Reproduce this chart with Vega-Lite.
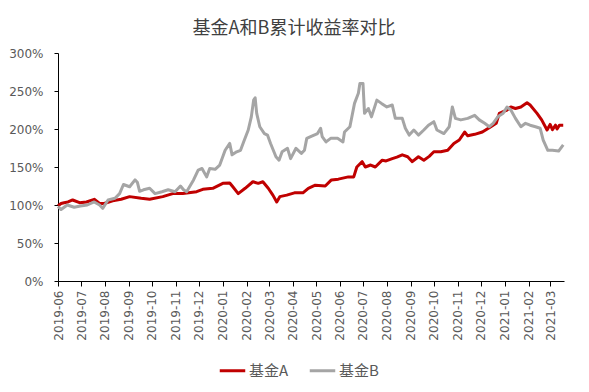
{
  "$schema": "https://vega.github.io/schema/vega-lite/v6.json",
  "width": 506,
  "height": 228,
  "autosize": {"type": "none"},
  "padding": {"left": 58, "top": 53, "right": 25, "bottom": 111},
  "background": "white",
  "title": {"text": "基金A和B累计收益率对比", "font": "Noto Sans CJK SC", "fontSize": 18, "fontWeight": "normal", "color": "#404040", "anchor": "middle", "dx": -17, "offset": 9},
  "data": {"values": [
    {"d": "2019-06-01", "s": "基金A", "v": 99},
    {"d": "2019-06-05", "s": "基金A", "v": 102},
    {"d": "2019-06-09", "s": "基金A", "v": 103},
    {"d": "2019-06-14", "s": "基金A", "v": 104},
    {"d": "2019-06-20", "s": "基金A", "v": 106.6},
    {"d": "2019-06-29", "s": "基金A", "v": 103},
    {"d": "2019-07-08", "s": "基金A", "v": 104},
    {"d": "2019-07-18", "s": "基金A", "v": 107.5},
    {"d": "2019-07-25", "s": "基金A", "v": 102},
    {"d": "2019-07-31", "s": "基金A", "v": 102},
    {"d": "2019-08-11", "s": "基金A", "v": 105.6},
    {"d": "2019-08-22", "s": "基金A", "v": 107.5},
    {"d": "2019-09-02", "s": "基金A", "v": 111},
    {"d": "2019-09-17", "s": "基金A", "v": 108.8},
    {"d": "2019-09-28", "s": "基金A", "v": 107.5},
    {"d": "2019-10-15", "s": "基金A", "v": 111},
    {"d": "2019-10-28", "s": "基金A", "v": 115},
    {"d": "2019-11-10", "s": "基金A", "v": 115},
    {"d": "2019-11-28", "s": "基金A", "v": 117.5},
    {"d": "2019-12-06", "s": "基金A", "v": 120.6},
    {"d": "2019-12-19", "s": "基金A", "v": 122},
    {"d": "2020-01-01", "s": "基金A", "v": 128.5},
    {"d": "2020-01-10", "s": "基金A", "v": 129},
    {"d": "2020-01-14", "s": "基金A", "v": 124},
    {"d": "2020-01-21", "s": "基金A", "v": 115},
    {"d": "2020-01-30", "s": "基金A", "v": 122},
    {"d": "2020-02-09", "s": "基金A", "v": 130.6},
    {"d": "2020-02-16", "s": "基金A", "v": 128.5},
    {"d": "2020-02-22", "s": "基金A", "v": 130.6},
    {"d": "2020-02-29", "s": "基金A", "v": 122},
    {"d": "2020-03-06", "s": "基金A", "v": 113},
    {"d": "2020-03-11", "s": "基金A", "v": 104},
    {"d": "2020-03-15", "s": "基金A", "v": 111},
    {"d": "2020-03-24", "s": "基金A", "v": 113},
    {"d": "2020-04-03", "s": "基金A", "v": 116},
    {"d": "2020-04-14", "s": "基金A", "v": 116},
    {"d": "2020-04-21", "s": "基金A", "v": 122},
    {"d": "2020-04-30", "s": "基金A", "v": 126},
    {"d": "2020-05-13", "s": "基金A", "v": 125},
    {"d": "2020-05-21", "s": "基金A", "v": 133},
    {"d": "2020-05-30", "s": "基金A", "v": 134},
    {"d": "2020-06-12", "s": "基金A", "v": 137},
    {"d": "2020-06-19", "s": "基金A", "v": 137},
    {"d": "2020-06-23", "s": "基金A", "v": 150},
    {"d": "2020-06-30", "s": "基金A", "v": 157},
    {"d": "2020-07-04", "s": "基金A", "v": 150},
    {"d": "2020-07-11", "s": "基金A", "v": 152.6},
    {"d": "2020-07-17", "s": "基金A", "v": 150},
    {"d": "2020-07-26", "s": "基金A", "v": 159},
    {"d": "2020-07-31", "s": "基金A", "v": 158},
    {"d": "2020-08-08", "s": "基金A", "v": 161},
    {"d": "2020-08-14", "s": "基金A", "v": 163},
    {"d": "2020-08-21", "s": "基金A", "v": 166},
    {"d": "2020-08-28", "s": "基金A", "v": 163.5},
    {"d": "2020-09-03", "s": "基金A", "v": 157},
    {"d": "2020-09-11", "s": "基金A", "v": 163.5},
    {"d": "2020-09-18", "s": "基金A", "v": 159},
    {"d": "2020-09-25", "s": "基金A", "v": 164},
    {"d": "2020-10-01", "s": "基金A", "v": 170},
    {"d": "2020-10-10", "s": "基金A", "v": 170},
    {"d": "2020-10-19", "s": "基金A", "v": 172},
    {"d": "2020-10-27", "s": "基金A", "v": 181},
    {"d": "2020-11-03", "s": "基金A", "v": 185.5},
    {"d": "2020-11-10", "s": "基金A", "v": 196},
    {"d": "2020-11-14", "s": "基金A", "v": 191},
    {"d": "2020-11-23", "s": "基金A", "v": 193},
    {"d": "2020-12-03", "s": "基金A", "v": 196},
    {"d": "2020-12-14", "s": "基金A", "v": 203},
    {"d": "2020-12-21", "s": "基金A", "v": 207.5},
    {"d": "2020-12-25", "s": "基金A", "v": 220.6},
    {"d": "2020-12-30", "s": "基金A", "v": 222.8},
    {"d": "2021-01-04", "s": "基金A", "v": 225},
    {"d": "2021-01-09", "s": "基金A", "v": 229},
    {"d": "2021-01-15", "s": "基金A", "v": 227},
    {"d": "2021-01-22", "s": "基金A", "v": 229},
    {"d": "2021-01-30", "s": "基金A", "v": 234.6},
    {"d": "2021-02-03", "s": "基金A", "v": 231.6},
    {"d": "2021-02-12", "s": "基金A", "v": 220.6},
    {"d": "2021-02-18", "s": "基金A", "v": 212},
    {"d": "2021-02-25", "s": "基金A", "v": 198.7},
    {"d": "2021-03-01", "s": "基金A", "v": 206},
    {"d": "2021-03-04", "s": "基金A", "v": 199},
    {"d": "2021-03-08", "s": "基金A", "v": 205},
    {"d": "2021-03-10", "s": "基金A", "v": 200},
    {"d": "2021-03-13", "s": "基金A", "v": 205},
    {"d": "2021-03-18", "s": "基金A", "v": 205},
    {"d": "2019-06-01", "s": "基金B", "v": 98},
    {"d": "2019-06-05", "s": "基金B", "v": 94},
    {"d": "2019-06-13", "s": "基金B", "v": 100},
    {"d": "2019-06-22", "s": "基金B", "v": 97},
    {"d": "2019-06-30", "s": "基金B", "v": 98.7},
    {"d": "2019-07-09", "s": "基金B", "v": 100},
    {"d": "2019-07-18", "s": "基金B", "v": 104},
    {"d": "2019-07-25", "s": "基金B", "v": 100},
    {"d": "2019-07-29", "s": "基金B", "v": 95.6},
    {"d": "2019-08-05", "s": "基金B", "v": 106.6},
    {"d": "2019-08-14", "s": "基金B", "v": 108.8},
    {"d": "2019-08-20", "s": "基金B", "v": 115},
    {"d": "2019-08-25", "s": "基金B", "v": 127},
    {"d": "2019-09-02", "s": "基金B", "v": 124},
    {"d": "2019-09-09", "s": "基金B", "v": 133},
    {"d": "2019-09-12", "s": "基金B", "v": 130},
    {"d": "2019-09-15", "s": "基金B", "v": 118},
    {"d": "2019-09-20", "s": "基金B", "v": 120},
    {"d": "2019-09-28", "s": "基金B", "v": 122},
    {"d": "2019-10-05", "s": "基金B", "v": 115},
    {"d": "2019-10-14", "s": "基金B", "v": 117.5},
    {"d": "2019-10-22", "s": "基金B", "v": 120},
    {"d": "2019-10-31", "s": "基金B", "v": 117.5},
    {"d": "2019-11-07", "s": "基金B", "v": 125},
    {"d": "2019-11-11", "s": "基金B", "v": 120},
    {"d": "2019-11-15", "s": "基金B", "v": 117.5},
    {"d": "2019-11-24", "s": "基金B", "v": 133},
    {"d": "2019-11-30", "s": "基金B", "v": 146},
    {"d": "2019-12-05", "s": "基金B", "v": 148},
    {"d": "2019-12-11", "s": "基金B", "v": 137},
    {"d": "2019-12-15", "s": "基金B", "v": 148},
    {"d": "2019-12-22", "s": "基金B", "v": 147},
    {"d": "2019-12-28", "s": "基金B", "v": 152.6},
    {"d": "2020-01-04", "s": "基金B", "v": 172},
    {"d": "2020-01-10", "s": "基金B", "v": 181},
    {"d": "2020-01-13", "s": "基金B", "v": 166},
    {"d": "2020-01-19", "s": "基金B", "v": 170},
    {"d": "2020-01-24", "s": "基金B", "v": 172},
    {"d": "2020-01-28", "s": "基金B", "v": 183},
    {"d": "2020-02-03", "s": "基金B", "v": 198.7},
    {"d": "2020-02-07", "s": "基金B", "v": 216},
    {"d": "2020-02-10", "s": "基金B", "v": 238},
    {"d": "2020-02-12", "s": "基金B", "v": 241},
    {"d": "2020-02-14", "s": "基金B", "v": 220.6},
    {"d": "2020-02-18", "s": "基金B", "v": 203},
    {"d": "2020-02-24", "s": "基金B", "v": 194},
    {"d": "2020-02-28", "s": "基金B", "v": 192},
    {"d": "2020-03-03", "s": "基金B", "v": 181},
    {"d": "2020-03-10", "s": "基金B", "v": 163.5},
    {"d": "2020-03-14", "s": "基金B", "v": 159},
    {"d": "2020-03-18", "s": "基金B", "v": 170},
    {"d": "2020-03-25", "s": "基金B", "v": 174.6},
    {"d": "2020-03-29", "s": "基金B", "v": 161},
    {"d": "2020-04-05", "s": "基金B", "v": 174.6},
    {"d": "2020-04-12", "s": "基金B", "v": 168},
    {"d": "2020-04-16", "s": "基金B", "v": 172},
    {"d": "2020-04-19", "s": "基金B", "v": 187.7},
    {"d": "2020-04-24", "s": "基金B", "v": 190},
    {"d": "2020-05-03", "s": "基金B", "v": 194},
    {"d": "2020-05-07", "s": "基金B", "v": 201},
    {"d": "2020-05-09", "s": "基金B", "v": 190},
    {"d": "2020-05-14", "s": "基金B", "v": 183},
    {"d": "2020-05-20", "s": "基金B", "v": 187.7},
    {"d": "2020-05-29", "s": "基金B", "v": 187.7},
    {"d": "2020-06-05", "s": "基金B", "v": 183},
    {"d": "2020-06-07", "s": "基金B", "v": 196},
    {"d": "2020-06-14", "s": "基金B", "v": 203},
    {"d": "2020-06-20", "s": "基金B", "v": 233.7},
    {"d": "2020-06-25", "s": "基金B", "v": 247},
    {"d": "2020-06-27", "s": "基金B", "v": 260},
    {"d": "2020-07-01", "s": "基金B", "v": 260},
    {"d": "2020-07-03", "s": "基金B", "v": 220.6},
    {"d": "2020-07-08", "s": "基金B", "v": 227},
    {"d": "2020-07-12", "s": "基金B", "v": 216},
    {"d": "2020-07-19", "s": "基金B", "v": 238},
    {"d": "2020-07-25", "s": "基金B", "v": 233.7},
    {"d": "2020-08-01", "s": "基金B", "v": 229},
    {"d": "2020-08-08", "s": "基金B", "v": 231.6},
    {"d": "2020-08-12", "s": "基金B", "v": 214},
    {"d": "2020-08-21", "s": "基金B", "v": 214},
    {"d": "2020-08-25", "s": "基金B", "v": 201},
    {"d": "2020-08-30", "s": "基金B", "v": 192},
    {"d": "2020-09-05", "s": "基金B", "v": 198.7},
    {"d": "2020-09-11", "s": "基金B", "v": 192},
    {"d": "2020-09-18", "s": "基金B", "v": 198.7},
    {"d": "2020-09-24", "s": "基金B", "v": 205},
    {"d": "2020-10-01", "s": "基金B", "v": 209.6},
    {"d": "2020-10-05", "s": "基金B", "v": 198.7},
    {"d": "2020-10-14", "s": "基金B", "v": 194},
    {"d": "2020-10-21", "s": "基金B", "v": 203},
    {"d": "2020-10-25", "s": "基金B", "v": 229},
    {"d": "2020-10-29", "s": "基金B", "v": 214},
    {"d": "2020-11-05", "s": "基金B", "v": 212},
    {"d": "2020-11-14", "s": "基金B", "v": 214},
    {"d": "2020-11-23", "s": "基金B", "v": 218},
    {"d": "2020-11-29", "s": "基金B", "v": 212},
    {"d": "2020-12-06", "s": "基金B", "v": 207.5},
    {"d": "2020-12-12", "s": "基金B", "v": 203},
    {"d": "2020-12-17", "s": "基金B", "v": 207.5},
    {"d": "2020-12-23", "s": "基金B", "v": 216},
    {"d": "2020-12-30", "s": "基金B", "v": 220.6},
    {"d": "2021-01-04", "s": "基金B", "v": 229},
    {"d": "2021-01-09", "s": "基金B", "v": 225},
    {"d": "2021-01-15", "s": "基金B", "v": 214},
    {"d": "2021-01-22", "s": "基金B", "v": 203},
    {"d": "2021-01-28", "s": "基金B", "v": 207.5},
    {"d": "2021-02-03", "s": "基金B", "v": 205},
    {"d": "2021-02-10", "s": "基金B", "v": 203},
    {"d": "2021-02-16", "s": "基金B", "v": 201},
    {"d": "2021-02-20", "s": "基金B", "v": 185.5},
    {"d": "2021-02-26", "s": "基金B", "v": 172},
    {"d": "2021-03-04", "s": "基金B", "v": 172},
    {"d": "2021-03-12", "s": "基金B", "v": 171},
    {"d": "2021-03-18", "s": "基金B", "v": 179}
  ]},
  "mark": {"type": "line", "strokeWidth": 3, "strokeJoin": "round"},
  "encoding": {
    "x": {
      "field": "d", "type": "temporal",
      "scale": {"domain": [{"year": 2019, "month": 6, "date": 1}, {"year": 2021, "month": 3, "date": 19}]},
      "axis": {"title": null, "format": "%Y-%m", "labelAngle": -90, "tickCount": {"interval": "month", "step": 1}, "grid": false, "domainColor": "#000000", "tickColor": "#000000", "tickSize": 5, "labelFont": "DejaVu Sans", "labelFontSize": 12, "labelColor": "#595959", "labelPadding": 4, "labelOverlap": false, "labelFlush": false}
    },
    "y": {
      "field": "v", "type": "quantitative",
      "scale": {"domain": [0, 300]},
      "axis": {"title": null, "values": [0, 50, 100, 150, 200, 250, 300], "labelExpr": "datum.value + '%'", "grid": false, "domainColor": "#000000", "tickColor": "#000000", "tickSize": 4, "labelFont": "DejaVu Sans", "labelFontSize": 12, "labelColor": "#595959", "labelPadding": 11}
    },
    "color": {
      "field": "s", "type": "nominal",
      "scale": {"domain": ["基金A", "基金B"], "range": ["#C00000", "#A5A5A5"]},
      "legend": {"title": null, "orient": "none", "legendX": 160, "legendY": 303, "direction": "horizontal", "symbolType": "stroke", "symbolSize": 650, "symbolStrokeWidth": 3, "labelFont": "Noto Sans CJK SC", "labelFontSize": 15, "labelColor": "#595959", "columnPadding": 14, "labelOffset": 2}
    }
  },
  "config": {"view": {"stroke": null}}
}
